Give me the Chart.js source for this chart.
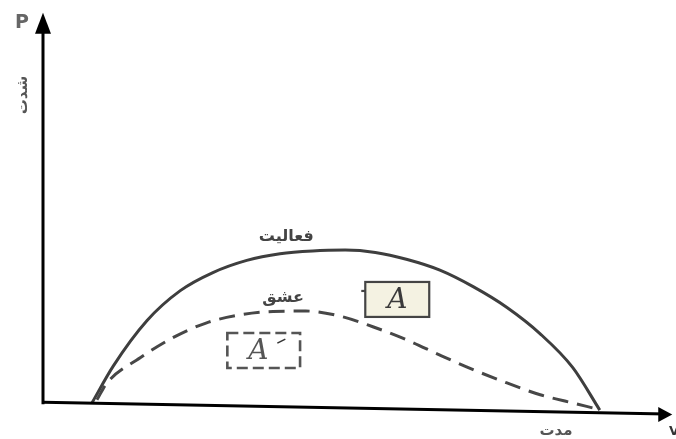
<!DOCTYPE html>
<html>
<head>
<meta charset="utf-8">
<script src="https://cdn.jsdelivr.net/npm/chart.js@4"></script>
<style>
html,body{margin:0;padding:0;background:#fff;}
#wrap{width:676px;height:439px;position:relative;}
</style>
</head>
<body>
<div id="wrap"><canvas id="c" width="676" height="439"></canvas></div>
<script>
// Duration (x, 0-100) and intensity (y, 0-100)
const activityX = [7.8, 11.2, 16.6, 21.9, 27.1, 32.5, 37.8, 43.0, 48.2, 53.0, 58.1, 63.3, 68.6, 74.0, 79.3, 84.5, 88.8];
const activityY = [0, 9.4, 21.0, 28.6, 33.2, 36.3, 38.0, 38.7, 38.9, 38.3, 36.5, 33.8, 29.6, 24.3, 17.6, 9.0, -1.8];
const loveX = [8.6, 10.2, 15.5, 20.7, 26.1, 31.4, 36.7, 41.9, 47.4, 52.6, 58.1, 63.3, 68.6, 74.0, 79.3, 84.5, 87.8];
const loveY = [0.8, 5.1, 11.5, 16.6, 20.4, 22.4, 23.3, 23.4, 22.1, 19.4, 16.0, 12.2, 8.5, 5.1, 2.1, 0, -1.3];
const xAxisLine = [[0, 0.2], [99.4, -2.8]];
const yAxisLine = [[0, -0.3], [0, 96]];

const labels = {
  yAxis: 'P',
  yName: 'شدت',
  xAxis: 'V',
  xName: 'مدت',
  activity: 'فعالیت',
  love: 'عشق',
  box: 'A'
};

const toPts = (xs, ys) => xs.map((x, i) => ({x, y: ys[i]}));
const pairPts = arr => arr.map(p => ({x: p[0], y: p[1]}));

const decor = {
  id: 'decor',
  afterDatasetsDraw(chart) {
    const ctx = chart.ctx;
    const xs = chart.scales.x, ys = chart.scales.y;
    const X = v => xs.getPixelForValue(v), Y = v => ys.getPixelForValue(v);
    ctx.save();
    // arrowheads
    ctx.fillStyle = '#000';
    const yTopX = X(0), yTopY = Y(96);
    ctx.beginPath();
    ctx.moveTo(yTopX, yTopY - 13);
    ctx.lineTo(yTopX - 8, yTopY + 8);
    ctx.lineTo(yTopX + 8, yTopY + 8);
    ctx.closePath(); ctx.fill();
    const xEndX = X(99.4), xEndY = Y(-2.8);
    ctx.beginPath();
    ctx.moveTo(xEndX + 6, xEndY + 0.5);
    ctx.lineTo(xEndX - 8, xEndY - 7);
    ctx.lineTo(xEndX - 8, xEndY + 8);
    ctx.closePath(); ctx.fill();

    // solid box A
    const bx1 = X(51.4), bx2 = X(61.6), by1 = Y(30.8), by2 = Y(21.9);
    ctx.fillStyle = '#f4f2e2';
    ctx.fillRect(bx1, by1, bx2 - bx1, by2 - by1);
    ctx.strokeStyle = '#444'; ctx.lineWidth = 2.2;
    ctx.strokeRect(bx1, by1, bx2 - bx1, by2 - by1);
    ctx.beginPath(); ctx.moveTo(bx1 - 4, by1 + 9); ctx.lineTo(bx1, by1 + 9); ctx.stroke();
    ctx.fillStyle = '#3a3a3a';
    ctx.font = 'italic 28px "DejaVu Serif"';
    ctx.textAlign = 'center'; ctx.textBaseline = 'middle';
    ctx.fillText(labels.box, (bx1 + bx2) / 2, (by1 + by2) / 2 + 1);

    // dashed box A
    const dx1 = X(29.4), dx2 = X(41.0), dy1 = Y(17.8), dy2 = Y(8.9);
    ctx.setLineDash([11, 5]); ctx.lineWidth = 2.6; ctx.strokeStyle = '#555';
    ctx.strokeRect(dx1, dy1, dx2 - dx1, dy2 - dy1);
    ctx.setLineDash([]);
    ctx.fillStyle = '#555';
    ctx.font = 'italic 28px "DejaVu Serif"';
    ctx.fillText(labels.box, dx1 + 31, (dy1 + dy2) / 2 + 1);
    ctx.lineWidth = 1.5; ctx.strokeStyle = '#333';
    ctx.beginPath(); ctx.moveTo(dx1 + 50, dy1 + 10); ctx.lineTo(dx1 + 58, dy1 + 6); ctx.stroke();

    // texts
    ctx.fillStyle = '#666';
    ctx.font = 'bold 19px "DejaVu Sans"';
    ctx.textAlign = 'center';
    ctx.fillText(labels.yAxis, 22, 23);
    ctx.fillStyle = '#333';
    ctx.font = 'bold 13px "DejaVu Sans"';
    ctx.fillText(labels.xAxis, 674, 432);

    ctx.fillStyle = '#555';
    ctx.font = 'bold 15px "DejaVu Sans"';
    ctx.fillText(labels.xName, 556, 431);
    ctx.save();
    ctx.translate(23, 95);
    ctx.rotate(-Math.PI / 2);
    ctx.fillText(labels.yName, 0, 0);
    ctx.restore();

    ctx.fillStyle = '#444';
    ctx.font = 'bold 16px "DejaVu Sans"';
    ctx.fillText(labels.activity, X(38.8), Y(42.2));
    ctx.fillText(labels.love, X(38.3), Y(26.8));
    ctx.restore();
  }
};

new Chart(document.getElementById('c'), {
  type: 'line',
  data: {
    datasets: [
      {data: pairPts(xAxisLine), borderColor: '#000', borderWidth: 3, pointRadius: 0, tension: 0, clip: false},
      {data: pairPts(yAxisLine), borderColor: '#000', borderWidth: 3, pointRadius: 0, tension: 0, clip: false},
      {data: toPts(activityX, activityY), borderColor: '#3e3e3e', borderWidth: 3, pointRadius: 0, cubicInterpolationMode: 'monotone', clip: false},
      {data: toPts(loveX, loveY), borderColor: '#474747', borderWidth: 3, borderDash: [16, 9], pointRadius: 0, cubicInterpolationMode: 'monotone', clip: false}
    ]
  },
  options: {
    responsive: false,
    animation: false,
    layout: {padding: {left: 43, right: 6, top: 10, bottom: 36}},
    plugins: {legend: {display: false}, tooltip: {enabled: false}},
    scales: {
      x: {type: 'linear', min: 0, max: 100, display: false},
      y: {type: 'linear', min: 0, max: 100, display: false}
    }
  },
  plugins: [decor]
});
</script>
</body>
</html>
